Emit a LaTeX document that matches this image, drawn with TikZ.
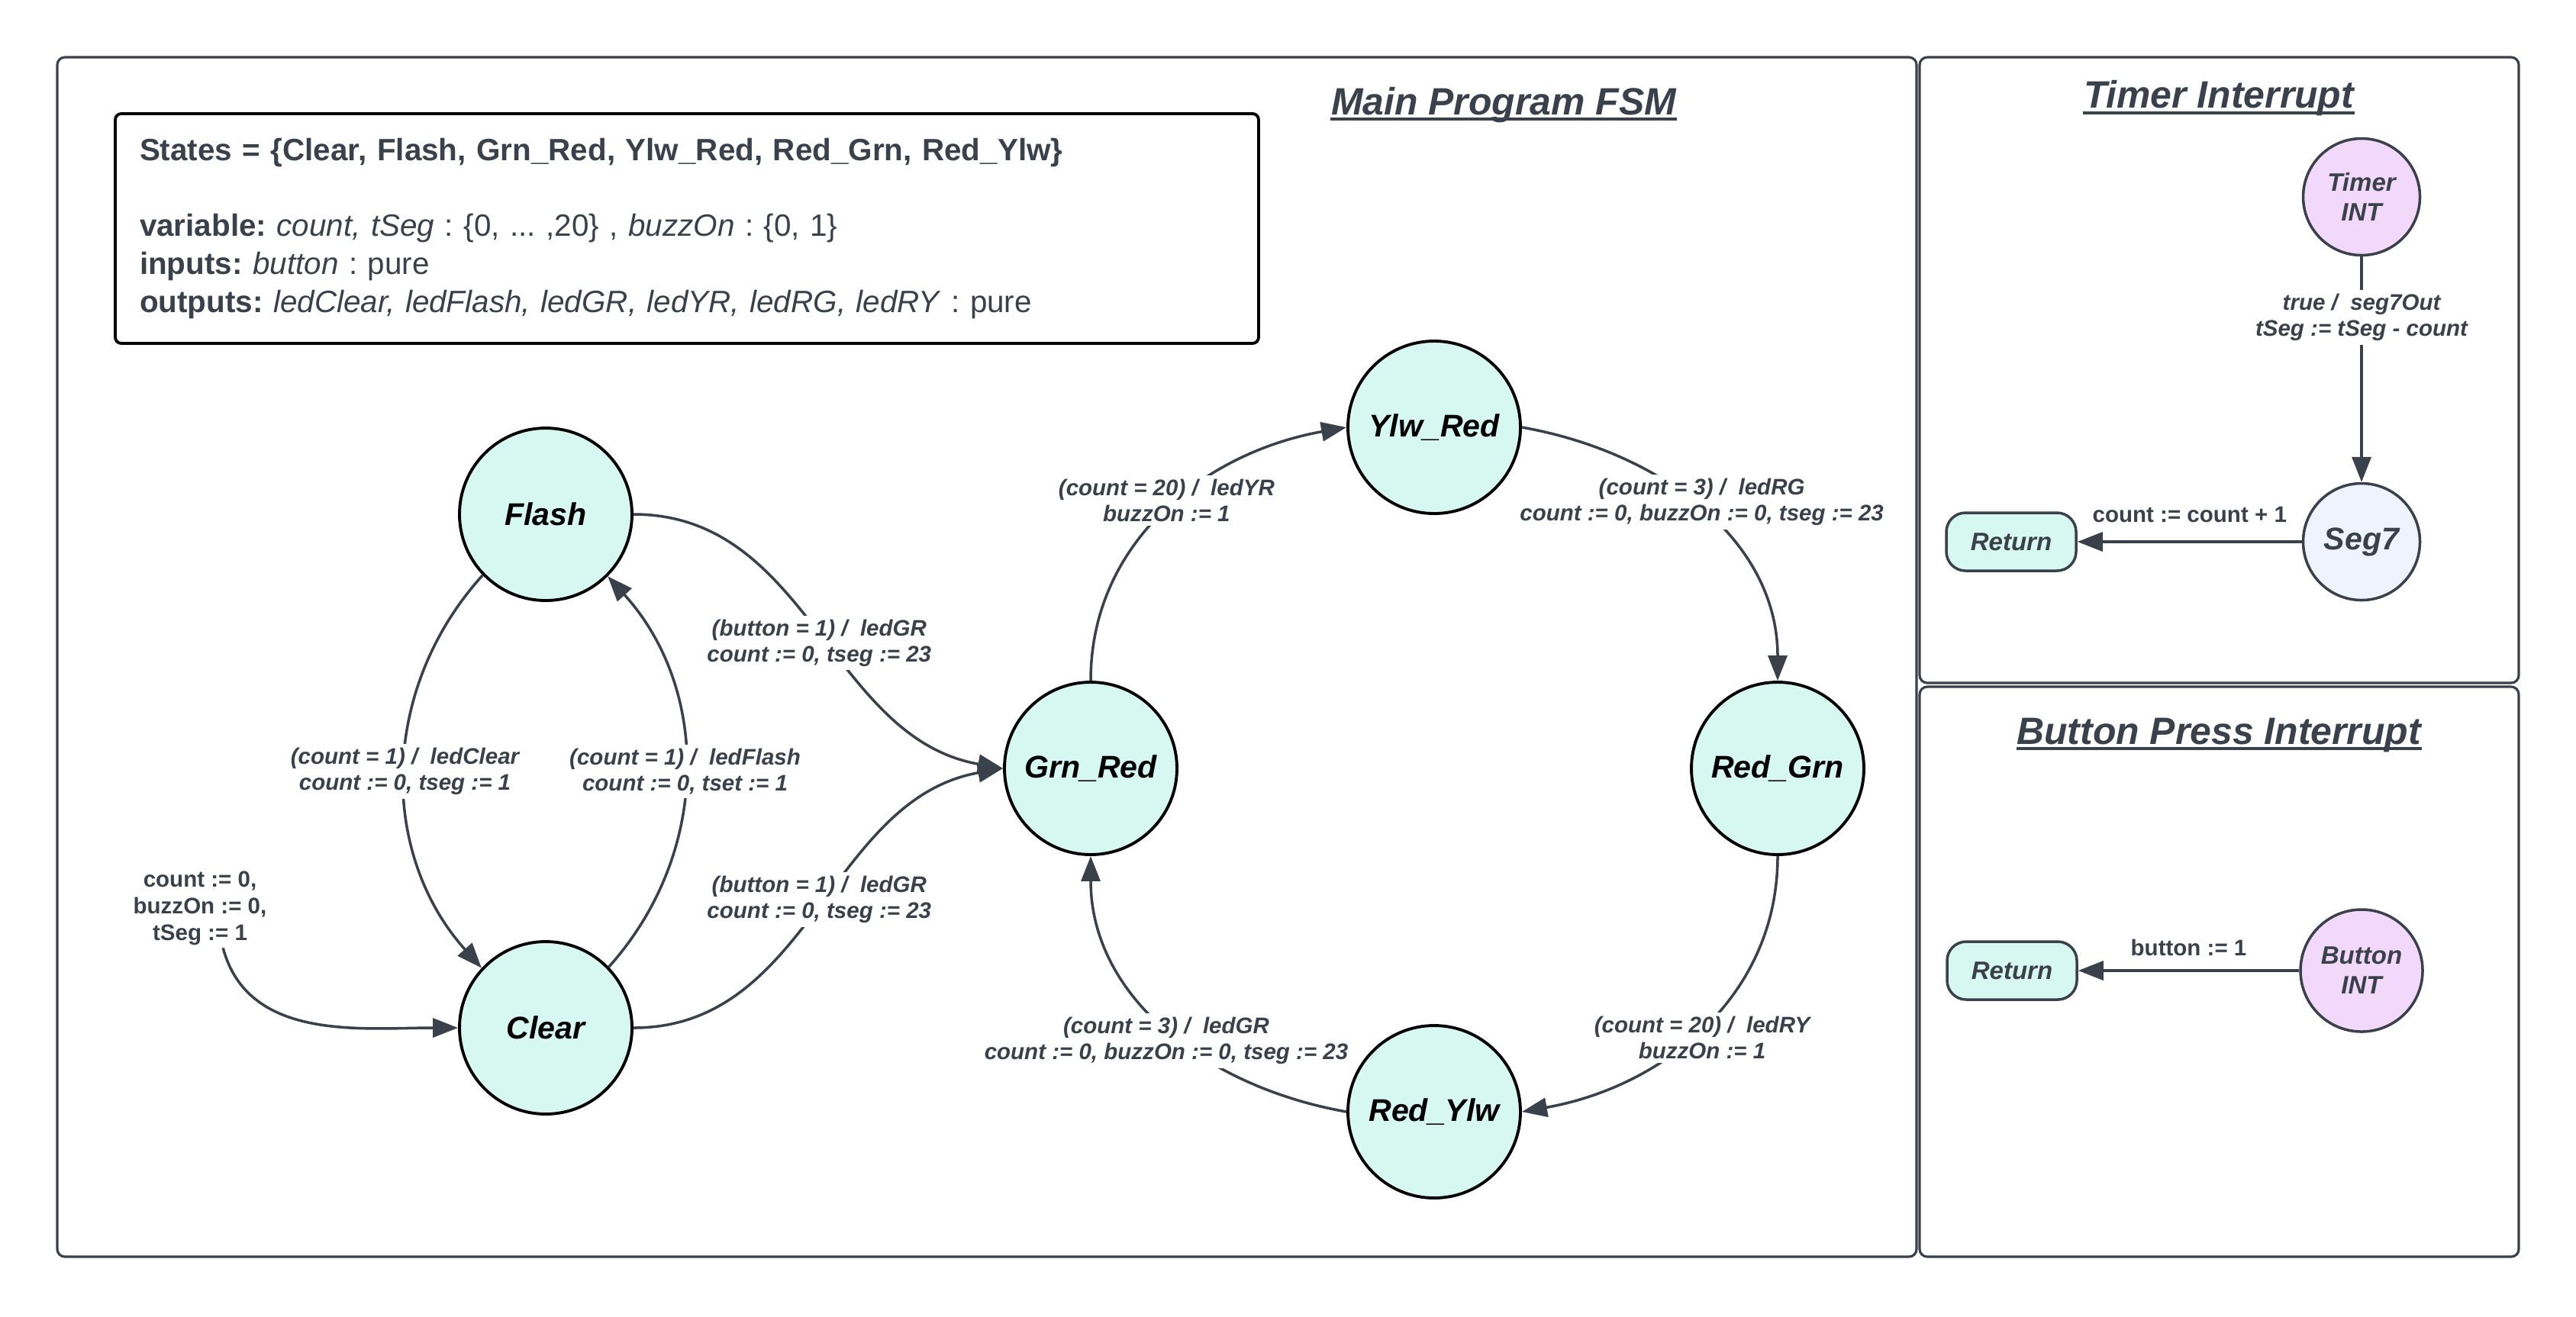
\documentclass[tikz,border=0pt]{standalone}
\usepackage{fontspec}
\setmainfont{Liberation Sans}
\usetikzlibrary{arrows.meta}
\frenchspacing

\definecolor{ink}{HTML}{3A414A}
\definecolor{mint}{HTML}{D6F8F1}
\definecolor{lilac}{HTML}{F2D9FB}
\definecolor{paleblue}{HTML}{EEF3FE}

\def\pfont#1#2{\fontsize{#1}{#2}\selectfont}

\tikzset{
	panel/.style={draw=ink, line width=0.9pt, rounded corners=0.1cm},
	infobox/.style={draw=black, line width=1.1pt, rounded corners=0.08cm, text=ink, align=left,
		text width=14.34cm, inner xsep=0.32cm, minimum height=3.01cm, font=\pfont{11.5}{14.1}},
	fsmstate/.style={circle, draw=black, line width=1.1pt, fill=mint, minimum size=2.26cm,
		inner sep=0pt, font=\pfont{11.7}{14}\bfseries\itshape},
	intstate/.style={circle, draw=ink, line width=1pt, minimum size=1.53cm, inner sep=0pt,
		text=ink, align=center, font=\pfont{9.4}{11.1}\bfseries\itshape},
	retstate/.style={rectangle, rounded corners=0.25cm, draw=ink, line width=1pt, fill=mint,
		minimum width=1.7cm, minimum height=0.76cm, text=ink, font=\pfont{9.4}{11}\bfseries\itshape},
	trans/.style={draw=ink, line width=1pt, -{Triangle[length=0.33cm, width=0.25cm]}},
	lbl/.style={fill=white, text=ink, align=center, inner sep=0.05cm, font=\pfont{8.4}{9.7}\bfseries\itshape},
	plainlbl/.style={text=ink, align=center, inner sep=0.03cm, font=\pfont{8.4}{10}\bfseries},
	paneltitle/.style={text=ink, inner sep=0pt, font=\pfont{14.2}{17}\bfseries\itshape},
	ul/.style={draw=ink, line width=1.4pt}
}

\begin{document}
\begin{tikzpicture}
	%%%%% START %%%%%
	\useasboundingbox (0,0) rectangle (33.75,-17.25);
	
	% panels
	\draw[panel] (0.75,-0.75) rectangle (25.11,-16.47);
	\draw[panel] (25.15,-0.75) rectangle (33.0,-8.95);
	\draw[panel] (25.15,-9.0) rectangle (33.0,-16.47);
	
	\node[paneltitle, anchor=base] (mtitle) at (19.70,-1.50) {Main Program FSM};
	\draw[ul] ([yshift=-0.06cm]mtitle.base west) -- ([yshift=-0.06cm]mtitle.base east);
	\node[paneltitle, anchor=base] (ttitle) at (29.07,-1.41) {Timer Interrupt};
	\draw[ul] ([yshift=-0.07cm]ttitle.base west) -- ([yshift=-0.07cm]ttitle.base east);
	\node[paneltitle, anchor=base] (btitle) at (29.07,-9.75) {Button Press Interrupt};
	\draw[ul] ([yshift=-0.06cm]btitle.base west) -- ([yshift=-0.06cm]btitle.base east);
	
	% definitions
	\node[infobox] (info) at (9.00,-2.995) {%
		\textbf{States = \{Clear, Flash, Grn\_Red, Ylw\_Red, Red\_Grn, Red\_Ylw\}}\\[14.1pt]
		\textbf{variable:} \textit{count, tSeg} : \{0, ... ,20\} , \textit{buzzOn} : \{0, 1\}\\
		\textbf{inputs:} \textit{button} : pure\\
		\textbf{outputs:} \textit{ledClear, ledFlash, ledGR, ledYR, ledRG, ledRY} : pure};
	
	% main fsm
	\node[fsmstate] (flash) at (7.15,-6.74) {Flash};
	\node[fsmstate] (clear) at (7.15,-13.47) {Clear};
	\node[fsmstate] (grnred) at (14.29,-10.07) {Grn\_Red};
	\node[fsmstate] (ylwred) at (18.79,-5.60) {Ylw\_Red};
	\node[fsmstate] (redgrn) at (23.29,-10.07) {Red\_Grn};
	\node[fsmstate] (redylw) at (18.79,-14.57) {Red\_Ylw};
	
	\node[plainlbl] (init) at (2.62,-11.90) {count := 0,\\buzzOn := 0,\\tSeg := 1};
	\draw[trans] (init.-60) to[out=-75, in=180] (clear.180);
	
	\draw[trans] (flash.224) to[bend right=42] node[lbl] (lclr) {(count = 1) /~ ledClear\\count := 0, tseg := 1} (clear.137);
	\draw[trans] (clear.44) to[bend right=42] node[lbl] (lfls) {(count = 1) /~ ledFlash\\count := 0, tset := 1} (flash.-45);
	\draw[trans] (flash.0) to[out=0, in=170] node[lbl, yshift=-0.17cm] (lfgr) {(button = 1) /~ ledGR\\count := 0, tseg := 23} (grnred.180);
	\draw[trans] (clear.0) to[out=0, in=190] node[lbl, yshift=0.13cm] (lcgr) {(button = 1) /~ ledGR\\count := 0, tseg := 23} (grnred.180);
	
	\draw[trans] (grnred.90) to[out=90, in=190] node[lbl, yshift=0.13cm] (lyr) {(count = 20) /~ ledYR\\buzzOn := 1} (ylwred.180);
	\draw[trans] (ylwred.0) to[out=-10, in=90] node[lbl, yshift=0.11cm] (lrg) {(count = 3) /~ ledRG\\count := 0, buzzOn := 0, tseg := 23} (redgrn.90);
	\draw[trans] (redgrn.-90) to[out=-90, in=10] node[lbl, yshift=-0.13cm] (lry) {(count = 20) /~ ledRY\\buzzOn := 1} (redylw.0);
	\draw[trans] (redylw.180) to[out=170, in=-90] node[lbl, yshift=-0.17cm] (lgr) {(count = 3) /~ ledGR\\count := 0, buzzOn := 0, tseg := 23} (grnred.-90);
	
	% timer interrupt
	\node[intstate, fill=lilac] (tint) at (30.94,-2.58) {Timer\\INT};
	\node[intstate, fill=paleblue, font=\pfont{11.7}{14}\bfseries\itshape] (seg7) at (30.94,-7.10) {Seg7};
	\node[retstate] (tret) at (26.35,-7.10) {Return};
	\draw[trans] (tint) -- node[lbl, pos=0.27] (lseg) {true /~ seg7Out\\tSeg := tSeg - count} (seg7);
	\draw[trans] (seg7) -- node[plainlbl, above=0.2cm] (lcnt) {count := count + 1} (tret);
	
	% button interrupt
	\node[intstate, fill=lilac, minimum height=1.6cm] (bint) at (30.94,-12.72) {Button\\INT};
	\node[retstate] (bret) at (26.36,-12.72) {Return};
	\draw[trans] (bint) -- node[plainlbl, above=0.14cm] (lbtn) {button := 1} (bret);
	
	%%%%% END %%%%%
\end{tikzpicture}
\end{document}
